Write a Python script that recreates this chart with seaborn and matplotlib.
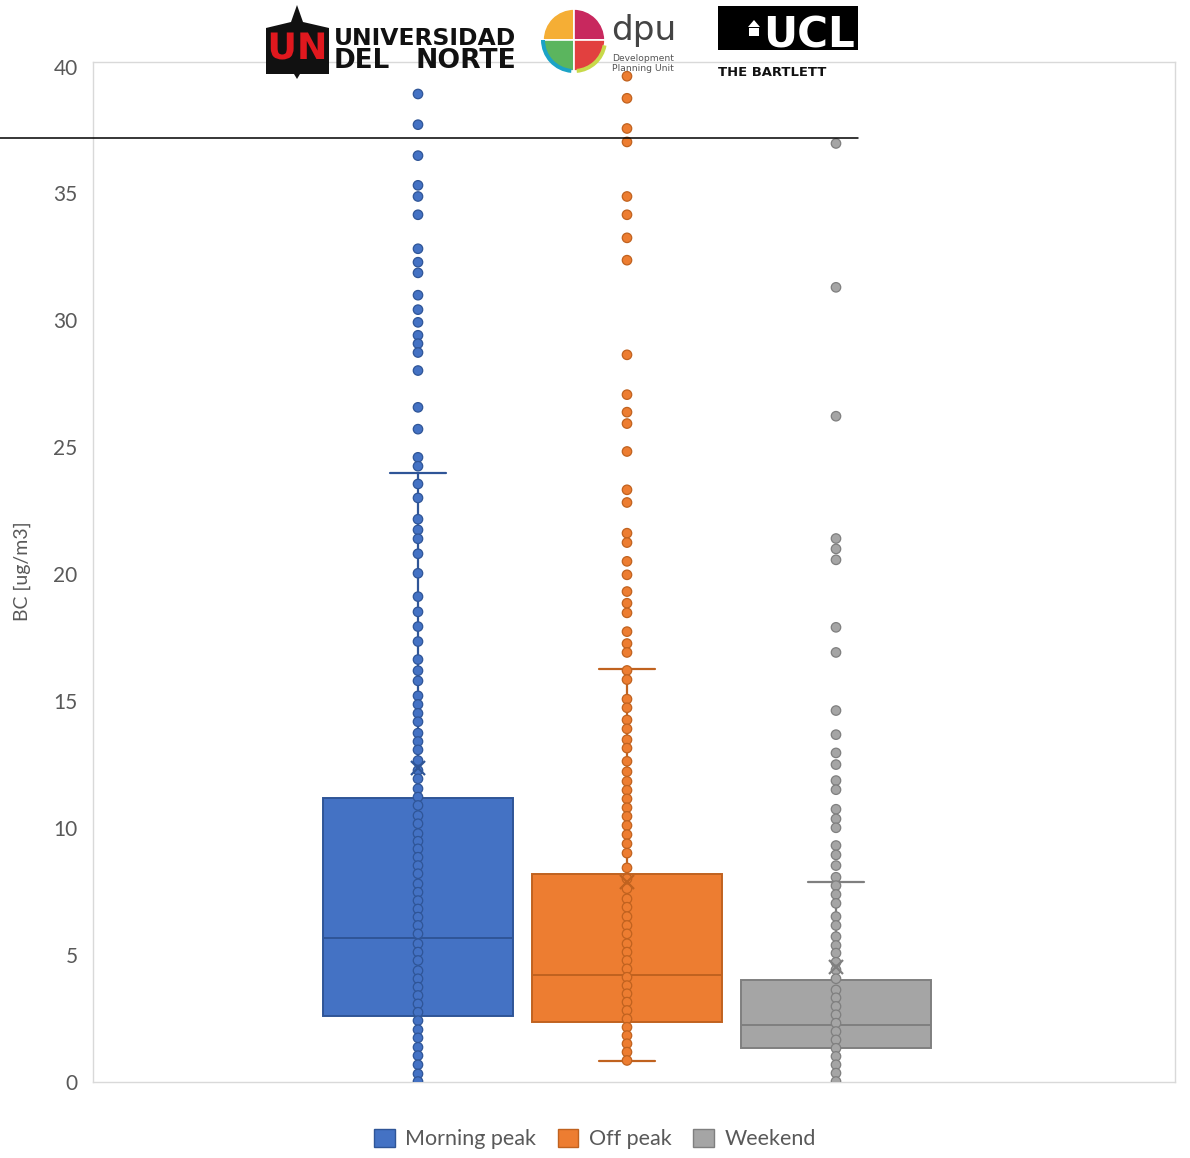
import matplotlib
matplotlib.use("Agg")
import matplotlib.pyplot as plt
from matplotlib.patches import Rectangle, Wedge, Polygon
from matplotlib.lines import Line2D
import matplotlib.patheffects as pe
import numpy as np
import pandas as pd
import seaborn as sns

# ---------------------------------------------------------------- data
periods = ["Morning peak", "Off peak", "Weekend"]

morning_peak = [38.92, 37.71, 36.49, 35.32, 34.88, 34.16, 32.82, 32.29, 31.87,
                30.99, 30.42, 29.92, 29.41, 29.08, 28.73, 28.02, 26.57, 25.71,
                24.60, 24.25, 23.55, 23.00, 22.16, 21.74, 21.39, 20.80, 20.03,
                19.11, 18.51, 17.93, 17.34, 16.63, 16.19, 15.79, 15.20, 14.86,
                14.51, 14.18, 13.73, 13.40, 13.07, 12.65, 12.26, 11.93, 11.54,
                11.21, 10.88, 10.48, 10.16, 9.77, 9.47, 9.17, 8.84, 8.51, 8.19,
                7.79, 7.46, 7.13, 6.80, 6.48, 6.15, 5.82, 5.43, 5.10, 4.77,
                4.37, 4.05, 3.72, 3.39, 3.06, 2.73, 2.40, 2.04, 1.72, 1.35,
                1.02, 0.66, 0.30, 0.00]

off_peak = [39.62, 38.75, 37.56, 37.03, 34.88, 34.16, 33.25, 32.37, 28.64,
            27.07, 26.38, 25.93, 24.83, 23.32, 22.82, 21.61, 21.24, 20.50,
            19.97, 19.31, 18.85, 18.47, 17.73, 17.26, 16.91, 16.20, 15.84,
            15.07, 14.73, 14.25, 13.90, 13.47, 13.14, 12.62, 12.21, 11.83,
            11.48, 11.14, 10.79, 10.45, 10.09, 9.73, 9.37, 9.00, 8.42, 7.99,
            7.60, 7.20, 6.87, 6.50, 6.15, 5.82, 5.43, 5.10, 4.77, 4.44, 4.11,
            3.78, 3.46, 3.13, 2.80, 2.47, 2.14, 1.81, 1.49, 1.16, 0.83]

weekend = [36.97, 31.30, 26.22, 21.40, 20.99, 20.56, 17.90, 16.91, 14.62,
           13.67, 12.95, 12.49, 11.86, 11.50, 10.73, 10.35, 10.00, 9.30, 8.93,
           8.51, 8.05, 7.72, 7.37, 7.02, 6.50, 6.15, 5.71, 5.36, 5.06, 4.70,
           4.40, 4.05, 3.61, 3.30, 2.96, 2.63, 2.30, 1.97, 1.64, 1.31, 0.99,
           0.66, 0.33, 0.00]

# box-and-whisker summary per period
q1_vals = [2.60, 2.33, 1.34]
median_vals = [5.67, 4.18, 2.21]
q3_vals = [11.19, 8.16, 4.02]
whisker_low = [0.00, 0.79, 0.00]
whisker_high = [24.00, 16.24, 7.88]
mean_vals = [12.35, 7.85, 4.50]

y_ticks = [0, 5, 10, 15, 20, 25, 30, 35, 40]
y_label = "BC [ug/m3]"

fills = ["#4472C4", "#ED7D31", "#A5A5A5"]
edges = ["#2F5597", "#C0621F", "#7F7F7F"]

# ---------------------------------------------------------------- figure
W, H = 1190, 1158
sns.set_theme(style="white")
plt.rcParams["font.family"] = ["Lato", "DejaVu Sans"]

fig = plt.figure(figsize=(W / 100, H / 100), dpi=100)
ax = fig.add_axes([93 / W, 1 - 1081.5 / H, (1175 - 93) / W, 1020 / H])

df = pd.DataFrame({
    "period": (["Morning peak"] * len(morning_peak) + ["Off peak"] * len(off_peak)
               + ["Weekend"] * len(weekend)),
    "bc": morning_peak + off_peak + weekend,
})
df["period"] = pd.Categorical(df["period"], categories=periods, ordered=True)

# boxes from the summary statistics
stats = []
for i, name in enumerate(periods):
    stats.append(dict(label=name, q1=q1_vals[i], med=median_vals[i], q3=q3_vals[i],
                      whislo=whisker_low[i], whishi=whisker_high[i],
                      mean=mean_vals[i], fliers=[]))
bp = ax.bxp(stats, positions=range(len(periods)), widths=0.91, capwidths=0.27,
            patch_artist=True, showmeans=True, showfliers=False,
            manage_ticks=False)
for i in range(len(periods)):
    box = bp["boxes"][i]
    box.set_facecolor(fills[i])
    box.set_edgecolor(edges[i])
    box.set_linewidth(1.4)
    box.set_zorder(1)
    bp["medians"][i].set_color(edges[i])
    bp["medians"][i].set_linewidth(1.4)
    for ln in bp["whiskers"][2 * i:2 * i + 2] + bp["caps"][2 * i:2 * i + 2]:
        ln.set_color(edges[i])
        ln.set_linewidth(1.6)
        ln.set_zorder(2)
    # a cap lying on the baseline is covered by the axis frame
    if whisker_low[i] <= 0:
        bp["caps"][2 * i].set_visible(False)
    m = bp["means"][i]
    m.set_marker("x")
    m.set_markersize(10)
    m.set_markeredgewidth(1.6)
    m.set_markeredgecolor(edges[i])
    m.set_zorder(5)

# every observation along the centre line
n_before = len(ax.collections)
sns.stripplot(data=df, x="period", y="bc", hue="period", palette=fills,
              jitter=False, size=6.8, linewidth=0.9, legend=False, ax=ax,
              zorder=3)
for coll, ec in zip(ax.collections[n_before:], edges):
    coll.set_edgecolor(ec)
    coll.set_zorder(3)

ax.set_xlim(-1.555, 3.622)
ax.set_ylim(0, 40.2)
ax.set_yticks(y_ticks)
ax.set_yticklabels([str(t) for t in y_ticks])
ax.set_xticks([])
ax.set_xlabel("")
ax.set_ylabel(y_label, fontsize=14, color="#595959")
ax.yaxis.set_label_coords(-0.057, 0.5)
ax.tick_params(axis="y", length=0, pad=11, labelsize=15, labelcolor="#595959")
for sp in ax.spines.values():
    sp.set_color("#D9D9D9")
    sp.set_linewidth(1.0)

# legend
handles = [Rectangle((0, 0), 1, 1, facecolor=f, edgecolor=e, linewidth=1.0)
           for f, e in zip(fills, edges)]
fig.legend(handles, periods, loc="center", bbox_to_anchor=(0.5, 1 - 1139 / H),
           ncol=3, frameon=False, fontsize=15.5, labelcolor="#595959",
           handlelength=0.95, handleheight=0.95, handletextpad=0.5,
           columnspacing=1.0)


# ---------------------------------------------------------------- header
def fx(x):
    return x / W


def fy(y):
    return 1 - y / H


def fit_width(txt, target):
    r = fig.canvas.get_renderer()
    w = txt.get_window_extent(r).width
    txt.set_fontsize(txt.get_fontsize() * target / w)


# Universidad del Norte
spire = Polygon([(fx(291), fy(22)), (fx(297), fy(5)), (fx(303), fy(22)),
                 (fx(329), fy(28)), (fx(329), fy(74)), (fx(300), fy(74)),
                 (fx(297), fy(79)), (fx(294), fy(74)), (fx(266), fy(74)),
                 (fx(266), fy(28))], closed=True, transform=fig.transFigure,
                facecolor="#111111", edgecolor="none")
fig.add_artist(spire)
un = fig.text(fx(297.5), fy(49), "UN", color="#E0181E", fontweight="bold",
              fontfamily="DejaVu Sans", ha="center", va="center", fontsize=30,
              path_effects=[pe.withStroke(linewidth=1.5, foreground="#111111")])
fit_width(un, 60)
t = fig.text(fx(334), fy(45), "UNIVERSIDAD", color="#111111", fontweight="bold",
             fontfamily="DejaVu Sans", ha="left", va="baseline", fontsize=20)
fit_width(t, 182)
t = fig.text(fx(334), fy(68), "DEL", color="#111111", fontweight="bold",
             fontfamily="DejaVu Sans", ha="left", va="baseline", fontsize=20)
fit_width(t, 56)
t = fig.text(fx(516), fy(68), "NORTE", color="#111111", fontweight="bold",
             fontfamily="DejaVu Sans", ha="right", va="baseline", fontsize=20)
fit_width(t, 100)

# DPU
cx, cy, rad = 574 / 100, (H - 40) / 100, 0.31
for th1, th2, col in [(90, 180, "#F5AE35"), (0, 90, "#C8285E"),
                      (180, 270, "#5BB55E"), (270, 360, "#E2403F")]:
    fig.add_artist(Wedge((cx, cy), rad, th1, th2, transform=fig.dpi_scale_trans,
                         facecolor=col, edgecolor="white", linewidth=1.2))
fig.add_artist(Wedge((cx, cy), rad + 0.02, 180, 265, width=0.04,
                     transform=fig.dpi_scale_trans, facecolor="#1BA3C6",
                     edgecolor="none"))
fig.add_artist(Wedge((cx, cy), rad + 0.02, 275, 350, width=0.04,
                     transform=fig.dpi_scale_trans, facecolor="#C8D94A",
                     edgecolor="none"))
t = fig.text(fx(611), fy(40), "dpu", color="#444444", fontfamily="DejaVu Sans",
             ha="left", va="baseline", fontsize=30)
fit_width(t, 65)
t = fig.text(fx(612), fy(61), "Development", color="#555555",
             fontfamily="DejaVu Sans", ha="left", va="baseline", fontsize=8)
fit_width(t, 62)
t = fig.text(fx(612), fy(71), "Planning Unit", color="#555555",
             fontfamily="DejaVu Sans", ha="left", va="baseline", fontsize=8)
fit_width(t, 62)

# UCL / The Bartlett
fig.add_artist(Rectangle((fx(718), fy(50)), fx(140), 44 / H,
                         transform=fig.transFigure, facecolor="black",
                         edgecolor="none"))
fig.add_artist(Polygon([(fx(748), fy(27)), (fx(754), fy(20)), (fx(760), fy(27))],
                       closed=True, transform=fig.transFigure,
                       facecolor="white", edgecolor="none"))
fig.add_artist(Rectangle((fx(749), fy(36)), fx(10), 8 / H,
                         transform=fig.transFigure, facecolor="white",
                         edgecolor="none"))
t = fig.text(fx(855), fy(47), "UCL", color="white", fontweight="bold",
             fontfamily="DejaVu Sans", ha="right", va="baseline", fontsize=30)
fit_width(t, 92)
t = fig.text(fx(718), fy(76), "THE BARTLETT", color="#111111",
             fontweight="bold", fontfamily="DejaVu Sans", ha="left",
             va="baseline", fontsize=12)
fit_width(t, 107)

# rule across the upper part of the page
fig.add_artist(Line2D([0, fx(858)], [fy(138), fy(138)], transform=fig.transFigure,
                      color="black", linewidth=1.1, zorder=10))

fig.savefig("out.png", dpi=100)
